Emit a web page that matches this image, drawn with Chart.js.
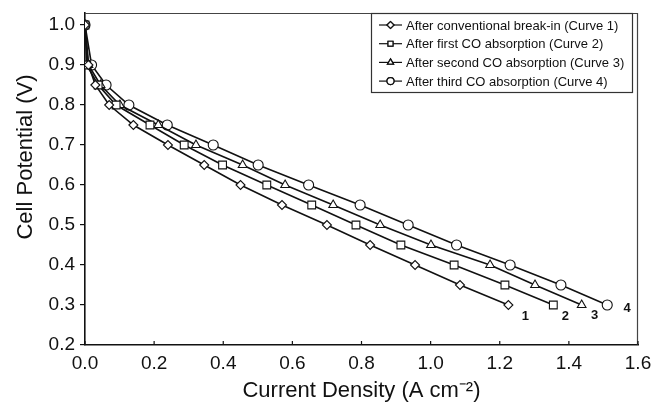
<!DOCTYPE html>
<html>
<head>
<meta charset="utf-8">
<script src="https://cdn.jsdelivr.net/npm/chart.js@4.4.0/dist/chart.umd.min.js"></script>
<style>
  html, body { margin: 0; padding: 0; background: #fff; }
  #wrap { width: 654px; height: 408px; position: relative; }
</style>
</head>
<body>
<div id="wrap"><canvas id="polChart"></canvas></div>
<script>
// cell potential (V), same steps for every curve
const potential = [1.0, 0.9, 0.85, 0.8, 0.75, 0.7, 0.65, 0.6, 0.55, 0.5, 0.45, 0.4, 0.35, 0.3];

// current density (A cm-2)
const curve1 = [0, 0.01, 0.03, 0.07, 0.14, 0.24, 0.345, 0.45, 0.57, 0.70, 0.825, 0.955, 1.085, 1.225];
const curve2 = [0, 0.005, 0.038, 0.09, 0.188, 0.287, 0.398, 0.526, 0.656, 0.784, 0.914, 1.068, 1.215, 1.355];
const curve3 = [0, 0.01, 0.045, 0.101, 0.212, 0.321, 0.456, 0.579, 0.718, 0.854, 1.001, 1.172, 1.302, 1.437];
const curve4 = [0, 0.019, 0.061, 0.127, 0.238, 0.371, 0.501, 0.647, 0.796, 0.935, 1.075, 1.23, 1.377, 1.511];

const seriesLabels = [
  "After conventional break-in (Curve 1)",
  "After first CO absorption (Curve 2)",
  "After second CO absorption (Curve 3)",
  "After third CO absorption (Curve 4)",
];
const curveNames = ["1", "2", "3", "4"];
const markers = ["rectRot", "rect", "triangle", "circle"];
const markerSize = [4.5, 5.5, 5, 5];
const yTitle = "Cell Potential (V)";

const FONT = "'Liberation Sans', Arial, sans-serif";

function toPoints(xs) {
  return xs.map((x, i) => ({ x: x, y: potential[i] }));
}

const allCurves = [curve1, curve2, curve3, curve4];

const datasets = allCurves.map((xs, i) => ({
  label: seriesLabels[i],
  data: toPoints(xs),
  showLine: true,
  borderColor: "#111",
  borderWidth: 1.6,
  pointStyle: markers[i],
  pointRadius: markerSize[i],
  pointBackgroundColor: "#fff",
  pointBorderColor: "#111",
  pointBorderWidth: 1.1,
  tension: 0,
}));

// frame, y title, in-plot legend and the 1-4 curve labels
const extras = {
  id: "extras",
  afterDraw(chart) {
    const ctx = chart.ctx;
    const a = chart.chartArea;
    ctx.save();

    // top + right frame
    ctx.strokeStyle = "#444";
    ctx.lineWidth = 1.2;
    ctx.beginPath();
    ctx.moveTo(a.left, a.top + 0.5);
    ctx.lineTo(a.right - 0.5, a.top + 0.5);
    ctx.lineTo(a.right - 0.5, a.bottom);
    ctx.stroke();

    // inward ticks on x axis
    const xs = chart.scales.x;
    ctx.strokeStyle = "#111";
    ctx.lineWidth = 1.2;
    xs.ticks.forEach((t) => {
      const px = xs.getPixelForValue(t.value);
      ctx.beginPath();
      ctx.moveTo(px, a.bottom);
      ctx.lineTo(px, a.bottom - 4);
      ctx.stroke();
    });

    // y title sits a bit above the middle of the axis
    ctx.save();
    ctx.translate(26, 157);
    ctx.rotate(-Math.PI / 2);
    ctx.font = "22px " + FONT;
    ctx.fillStyle = "#111";
    ctx.textAlign = "center";
    ctx.textBaseline = "middle";
    ctx.fillText(yTitle, 0, 0);
    ctx.restore();

    // legend box
    const bx = 371, by = a.top, bw = 261, bh = 79;
    ctx.fillStyle = "#fff";
    ctx.fillRect(bx, by, bw, bh);
    ctx.strokeStyle = "#333";
    ctx.lineWidth = 1.2;
    ctx.strokeRect(bx + 0.5, by + 0.5, bw, bh);

    ctx.font = "13px " + FONT;
    ctx.textBaseline = "middle";
    ctx.textAlign = "left";
    chart.data.datasets.forEach((ds, i) => {
      const y = by + 12 + i * 18.7;
      ctx.strokeStyle = "#111";
      ctx.lineWidth = 1.2;
      ctx.beginPath();
      ctx.moveTo(bx + 8, y);
      ctx.lineTo(bx + 31, y);
      ctx.stroke();
      Chart.helpers.drawPoint(ctx, {
        pointStyle: ds.pointStyle,
        radius: 3.5,
        borderWidth: 1,
      }, bx + 19.5, y);
      ctx.fillStyle = "#fff";
      ctx.fill();
      ctx.stroke();
      ctx.fillStyle = "#111";
      ctx.fillText(ds.label, bx + 35, y + 1);
    });

    // curve number labels beside last points
    const offs = [[17, 11], [12, 11], [13, 10], [20, 3]];
    ctx.font = "bold 13px " + FONT;
    ctx.textAlign = "center";
    chart.data.datasets.forEach((ds, i) => {
      const meta = chart.getDatasetMeta(i);
      const last = meta.data[meta.data.length - 1];
      ctx.fillText(curveNames[i], last.x + offs[i][0], last.y + offs[i][1]);
    });

    ctx.restore();
  },
};

new Chart(document.getElementById("polChart"), {
  type: "scatter",
  data: { datasets: datasets },
  options: {
    responsive: true,
    maintainAspectRatio: false,
    animation: false,
    layout: { padding: { top: 13, right: 16, left: 0, bottom: 0 } },
    plugins: {
      legend: { display: false },
      tooltip: { enabled: false },
    },
    scales: {
      x: {
        type: "linear",
        min: 0,
        max: 1.6,
        ticks: {
          stepSize: 0.2,
          color: "#111",
          font: { family: FONT, size: 19 },
          padding: 7,
          callback: (v) => v.toFixed(1),
        },
        grid: { display: false, drawTicks: false },
        border: { color: "#111", width: 1.6 },
        title: {
          display: true,
          text: "Current Density (A cm\u207B\u00B2)",
          color: "#111",
          font: { family: FONT, size: 22 },
          padding: { top: 0, bottom: 4 },
        },
        afterFit: (s) => {
          s.height = 63;
          s.paddingLeft = 0;
          s.paddingRight = 0;
        },
      },
      y: {
        type: "linear",
        min: 0.2,
        max: 1.03,
        afterBuildTicks: (s) => {
          s.ticks = [0.2, 0.3, 0.4, 0.5, 0.6, 0.7, 0.8, 0.9, 1.0].map((v) => ({ value: v }));
        },
        ticks: {
          color: "#111",
          font: { family: FONT, size: 19 },
          padding: 5,
          callback: (v) => v.toFixed(1),
        },
        grid: { drawOnChartArea: false, tickLength: 5, color: "#111", lineWidth: 1.2 },
        border: { color: "#111", width: 1.6 },
        title: { display: false },
        afterFit: (s) => {
          s.width = 85;
          s.paddingTop = 0;
          s.paddingBottom = 0;
        },
      },
    },
  },
  plugins: [extras],
});
</script>
</body>
</html>
